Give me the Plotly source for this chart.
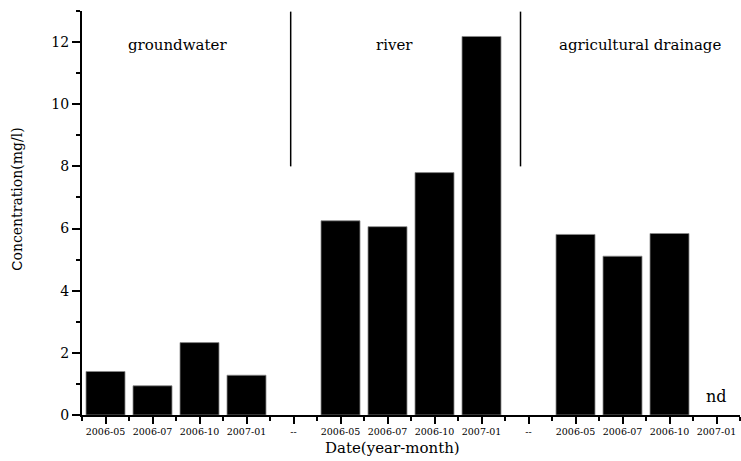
import plotly.graph_objects as go

# ---- data ----
tick_labels = ["2006-05", "2006-07", "2006-10", "2007-01", "--",
               "2006-05", "2006-07", "2006-10", "2007-01", "--",
               "2006-05", "2006-07", "2006-10", "2007-01"]
groundwater = [1.40, 0.94, 2.33, 1.28]
river = [6.25, 6.06, 7.80, 12.18]
agricultural = [5.81, 5.11, 5.84, None]   # last one: not detected
group_names = ["groundwater", "river", "agricultural drainage"]
group_label_x = [1.53, 6.15, 11.38]
divider_x = [3.94, 8.83]
nd_label = "nd"
x_title = "Date(year-month)"
y_title = '<span style="font-family:Liberation Sans, Arial">C</span>oncentration(mg/l)'

# assemble bar series along the category index (gaps at "--")
values = groundwater + [None] + river + [None] + agricultural
xpos = list(range(len(tick_labels)))

SERIF = "DejaVu Serif"

fig = go.Figure()
fig.add_trace(go.Bar(
    x=xpos, y=values, width=0.83,
    marker=dict(color="black", line=dict(color="#8a8a8a", width=0.8)),
    showlegend=False, hoverinfo="x+y",
))

for gx, name in zip(group_label_x, group_names):
    fig.add_annotation(x=gx, y=11.9, text=name, showarrow=False,
                       xanchor="center", yanchor="middle",
                       font=dict(family=SERIF, size=15, color="black"))

nd_index = 4 + 1 + 4 + 1 + agricultural.index(None)
fig.add_annotation(x=nd_index, y=0.6, text=nd_label, showarrow=False,
                   xanchor="center", yanchor="middle",
                   font=dict(family=SERIF, size=16, color="black"))

for dx in divider_x:
    fig.add_shape(type="line", xref="x", yref="y", x0=dx, x1=dx, y0=8.0, y1=12.98,
                  line=dict(color="black", width=1.5))

# axis titles (placed as annotations to match the original offsets)
fig.add_annotation(x=6.1, xref="x", y=-0.0, yref="paper", yshift=-33,
                   text=x_title, showarrow=False, xanchor="center", yanchor="middle",
                   font=dict(family=SERIF, size=15, color="black"))
fig.add_annotation(x=0, xref="paper", xshift=-65, y=6.93, yref="y",
                   text=y_title, showarrow=False, textangle=-90,
                   xanchor="center", yanchor="middle",
                   font=dict(family=SERIF, size=14, color="black"))

fig.update_layout(
    width=741, height=461,
    margin=dict(l=82, r=1, t=11, b=46),
    paper_bgcolor="white", plot_bgcolor="white",
    bargap=0.17,
    xaxis=dict(
        range=[-0.5, 13.5],
        tickmode="array", tickvals=xpos, ticktext=tick_labels,
        tickfont=dict(family=SERIF, size=9.5, color="black"),
        ticks="outside", ticklen=7, tickwidth=1.5, tickcolor="black",
        minor=dict(tickmode="linear", tick0=-0.5, dtick=1, ticks="outside",
                   ticklen=4, tickwidth=1.5, tickcolor="black"),
        showline=True, linecolor="black", linewidth=2,
        showgrid=False, zeroline=False,
    ),
    yaxis=dict(
        range=[0, 13],
        tickmode="linear", tick0=0, dtick=2,
        tickfont=dict(family=SERIF, size=14, color="black"),
        ticks="outside", ticklen=8, tickwidth=1.5, tickcolor="black",
        minor=dict(tickmode="linear", tick0=1, dtick=2, ticks="outside",
                   ticklen=4, tickwidth=1.5, tickcolor="black"),
        showline=True, linecolor="black", linewidth=2,
        showgrid=False, zeroline=False,
    ),
)

fig.write_html("out.html")
